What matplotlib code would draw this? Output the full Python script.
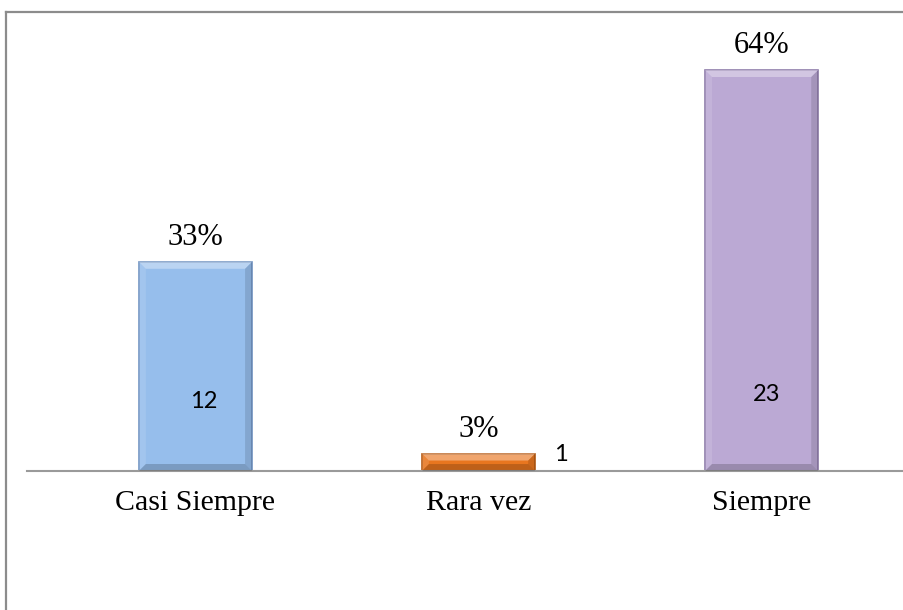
import matplotlib
matplotlib.use("Agg")
import matplotlib.pyplot as plt
from matplotlib.lines import Line2D
from matplotlib.patches import Polygon

categories = ["Casi Siempre", "Rara vez", "Siempre"]
counts = [12, 1, 23]
percent_labels = ["33%", "3%", "64%"]
colors = ["#96BEEC", "#E8761F", "#BBA9D4"]
edge_colors = ["#7193C2", "#B65B15", "#8F7DAA"]

W, H = 904, 610
fig = plt.figure(figsize=(W / 100, H / 100), dpi=100)

# outer chart frame (only left and top visible in crop)
fig.add_artist(Line2D([6 / W, 6 / W], [0, 1 - 12 / H], color="#8C8C8C", lw=1.6))
fig.add_artist(Line2D([6 / W, 1], [1 - 12 / H, 1 - 12 / H], color="#8C8C8C", lw=1.6))

ax = fig.add_axes([27 / W, 1 - 471 / H, 1 - 27 / W, (471 - 18) / H])
x = list(range(len(categories)))
bars = ax.bar(x, counts, width=0.4, color=colors, edgecolor=edge_colors, linewidth=1.2, zorder=2)

ax.set_xlim(-0.595, 2.503)
ax.set_ylim(0, 23 * 453 / 401)

for s in ["top", "right", "left"]:
    ax.spines[s].set_visible(False)
ax.spines["bottom"].set_color("#9A9A9A")
ax.spines["bottom"].set_linewidth(1.5)
ax.set_yticks([])
ax.set_xticks(x)
ax.set_xticklabels(categories, family="Liberation Serif", fontsize=21.5)
ax.tick_params(axis="x", length=0, pad=14)

# bevel effect computed from each bar's geometry in display coordinates
for b in bars:
    x0, y0 = ax.transData.transform((b.get_x(), 0))
    x1, y1 = ax.transData.transform((b.get_x() + b.get_width(), b.get_height()))
    d = min(7, (y1 - y0) / 2.5)
    top = [(x0, y1), (x1, y1), (x1 - d, y1 - d), (x0 + d, y1 - d)]
    bot = [(x0, y0), (x1, y0), (x1 - d, y0 + d), (x0 + d, y0 + d)]
    left = [(x0, y0), (x0, y1), (x0 + d, y1 - d), (x0 + d, y0 + d)]
    right = [(x1, y0), (x1, y1), (x1 - d, y1 - d), (x1 - d, y0 + d)]
    for pts, col, a in [(top, "white", 0.35), (left, "white", 0.12),
                        (right, "black", 0.12), (bot, "black", 0.18)]:
        fig.add_artist(Polygon(pts, closed=True, transform=None, facecolor=col,
                               alpha=a, edgecolor="none", zorder=3))

for i, (c, p) in enumerate(zip(counts, percent_labels)):
    ax.annotate(p, (i, c), xytext=(0, 7), textcoords="offset points",
                ha="center", va="bottom", family="Liberation Serif", fontsize=22)

# count labels
count_offsets = [(0.03, 3.96), (0.29, 0.94), (0.017, 4.36)]
for i, c in enumerate(counts):
    dx, yv = count_offsets[i]
    ax.text(i + dx, yv, str(c), ha="center", va="center", family="Lato", fontsize=17, zorder=4)

fig.savefig("out.png", dpi=100)
